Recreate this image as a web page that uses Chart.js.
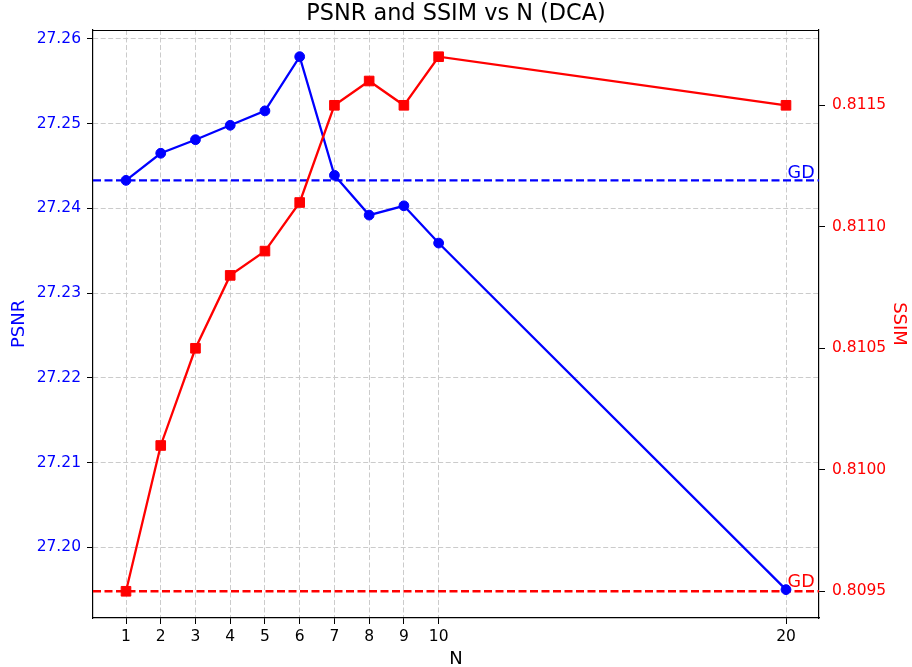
<!DOCTYPE html>
<html>
<head>
<meta charset="utf-8">
<script src="https://cdn.jsdelivr.net/npm/chart.js@4"></script>
<style>
  html, body { margin: 0; padding: 0; background: #fff; }
  #wrap { width: 912px; height: 667px; position: relative; }
</style>
</head>
<body>
<div id="wrap"><canvas id="c"></canvas></div>
<script>
// ---- data ----
const nValues = [1, 2, 3, 4, 5, 6, 7, 8, 9, 10, 20];
const psnrValues = [27.2433, 27.2465, 27.2481, 27.2498, 27.2515, 27.2579, 27.2439, 27.2392, 27.2403, 27.2359, 27.1950];
const ssimValues = [0.8095, 0.8101, 0.8105, 0.8108, 0.8109, 0.8111, 0.8115, 0.8116, 0.8115, 0.8117, 0.8115];
const gdPsnr = 27.2433;
const gdSsim = 0.8095;
const gdText = 'GD';
const gdLabelX = 20;
const xTicks = [1, 2, 3, 4, 5, 6, 7, 8, 9, 10, 20];
const psnrTicks = [27.20, 27.21, 27.22, 27.23, 27.24, 27.25, 27.26];
const ssimTicks = [0.8095, 0.8100, 0.8105, 0.8110, 0.8115];
const xRange = [0.05, 20.95];
const psnrRange = [27.19165, 27.26105];
const ssimRange = [0.80939, 0.81181];
const titleText = 'PSNR and SSIM vs N (DCA)';
const xLabel = 'N';
const psnrLabel = 'PSNR';
const ssimLabel = 'SSIM';

Chart.defaults.font.family = '"DejaVu Sans", sans-serif';

const psnrPoints = nValues.map((n, i) => ({ x: n, y: psnrValues[i] }));
const ssimPoints = nValues.map((n, i) => ({ x: n, y: ssimValues[i] }));
const gdPsnrLine = [{ x: xRange[0], y: gdPsnr }, { x: xRange[1], y: gdPsnr }];
const gdSsimLine = [{ x: xRange[0], y: gdSsim }, { x: xRange[1], y: gdSsim }];

const gdLabels = {
  id: 'gdLabels',
  afterDatasetsDraw(chart) {
    const { ctx, scales } = chart;
    ctx.save();
    ctx.font = '17.5px "DejaVu Sans"';
    ctx.textAlign = 'left';
    ctx.textBaseline = 'alphabetic';
    const x = scales.x.getPixelForValue(gdLabelX) + 1.6;
    ctx.fillStyle = 'blue';
    ctx.fillText(gdText, x, scales.y.getPixelForValue(gdPsnr) - 2);
    ctx.fillStyle = 'red';
    ctx.fillText(gdText, x, scales.y1.getPixelForValue(gdSsim) - 4);
    ctx.restore();
  }
};

const frameTop = {
  id: 'frameTop',
  afterDraw(chart) {
    const { ctx, chartArea } = chart;
    ctx.save();
    ctx.strokeStyle = '#000';
    ctx.lineWidth = 1.2;
    ctx.beginPath();
    ctx.moveTo(chartArea.left, Math.round(chartArea.top) + 0.5);
    ctx.lineTo(chartArea.right, Math.round(chartArea.top) + 0.5);
    ctx.stroke();
    ctx.restore();
  }
};

const tickFont = { size: 15.5 };

new Chart(document.getElementById('c'), {
  type: 'line',
  data: {
    datasets: [
      {
        label: ssimLabel, data: ssimPoints, yAxisID: 'y1', order: 0,
        borderColor: 'red', backgroundColor: 'red', borderWidth: 2.3,
        pointStyle: 'rect', pointRadius: 6.8, pointBorderWidth: 1,
        pointBackgroundColor: 'red', pointBorderColor: 'red', tension: 0, fill: false
      },
      {
        label: psnrLabel, data: psnrPoints, yAxisID: 'y', order: 1,
        borderColor: 'blue', backgroundColor: 'blue', borderWidth: 2.3,
        pointStyle: 'circle', pointRadius: 4.9, pointBorderWidth: 1,
        pointBackgroundColor: 'blue', pointBorderColor: 'blue', tension: 0, fill: false
      },
      {
        label: 'GD SSIM', data: gdSsimLine, yAxisID: 'y1', order: 2,
        borderColor: 'red', borderWidth: 2.3, borderDash: [8, 3.5], pointRadius: 0, fill: false
      },
      {
        label: 'GD PSNR', data: gdPsnrLine, yAxisID: 'y', order: 3,
        borderColor: 'blue', borderWidth: 2.3, borderDash: [8, 3.5], pointRadius: 0, fill: false
      }
    ]
  },
  options: {
    responsive: true,
    maintainAspectRatio: false,
    animation: false,
    devicePixelRatio: 1,
    layout: { padding: 0 },
    plugins: {
      legend: { display: false },
      tooltip: { enabled: false },
      title: {
        display: true, text: titleText, color: '#000',
        font: { size: 22.4, weight: 'normal', lineHeight: 1.2 },
        padding: { top: 0.6, bottom: 2.5 }
      }
    },
    scales: {
      x: {
        type: 'linear', position: 'bottom', min: xRange[0], max: xRange[1],
        afterBuildTicks: (s) => { s.ticks = xTicks.map(v => ({ value: v })); },
        afterFit: (s) => { s.height = 49; },
        ticks: { color: '#000', font: tickFont, padding: 3.5, maxRotation: 0, autoSkip: false,
                 callback: (v) => String(v) },
        grid: { color: '#cbcbcb', lineWidth: 1, drawTicks: true, tickLength: 6,
                tickColor: '#000', tickWidth: 1, tickBorderDash: [] },
        border: { display: true, color: '#000', width: 1.2, dash: [5, 2.5] },
        title: { display: true, text: xLabel, color: '#000',
                 font: { size: 18, lineHeight: 0.8333 }, padding: 0 }
      },
      y: {
        type: 'linear', position: 'left', min: psnrRange[0], max: psnrRange[1],
        afterBuildTicks: (s) => { s.ticks = psnrTicks.map(v => ({ value: v })); },
        afterFit: (s) => { s.width = 93; },
        ticks: { color: 'blue', font: tickFont, padding: 6, callback: (v) => Number(v).toFixed(2) },
        grid: { color: '#cbcbcb', lineWidth: 1, drawTicks: true, tickLength: 6,
                tickColor: '#000', tickWidth: 1, tickBorderDash: [] },
        border: { display: true, color: '#000', width: 1.2, dash: [5, 2.5] },
        title: { display: true, text: psnrLabel, color: 'blue',
                 font: { size: 18, lineHeight: 1.2 }, padding: { top: 8.9, bottom: 0 } }
      },
      y1: {
        type: 'linear', position: 'right', min: ssimRange[0], max: ssimRange[1],
        afterBuildTicks: (s) => { s.ticks = ssimTicks.map(v => ({ value: v })); },
        afterFit: (s) => { s.width = 93; },
        ticks: { color: 'red', font: tickFont, padding: 7, callback: (v) => Number(v).toFixed(4) },
        grid: { drawOnChartArea: false, drawTicks: true, tickLength: 6,
                tickColor: '#000', tickWidth: 1, tickBorderDash: [] },
        border: { display: true, color: '#000', width: 1.2 },
        title: { display: true, text: ssimLabel, color: 'red',
                 font: { size: 18, lineHeight: 1.2 }, padding: { top: 2.4, bottom: 0 } }
      }
    }
  },
  plugins: [gdLabels, frameTop]
});
</script>
</body>
</html>
